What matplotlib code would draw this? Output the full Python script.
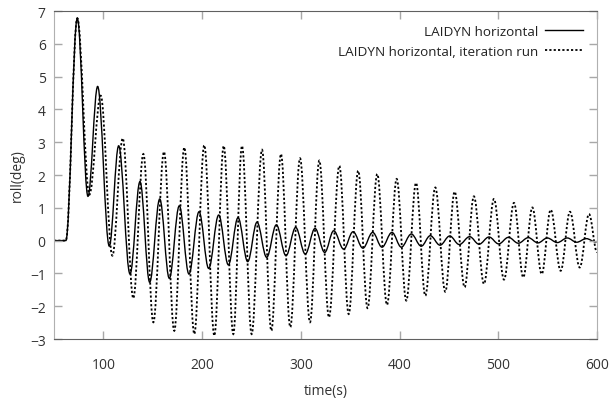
import matplotlib
matplotlib.use('Agg')
import matplotlib.pyplot as plt
from matplotlib.path import Path
from matplotlib.patches import PathPatch
from matplotlib.lines import Line2D

plt.rcParams['font.family'] = ['Open Sans', 'DejaVu Sans']

# LAIDYN horizontal (solid) - turning points
base_t = [50, 62, 73.6, 84.4, 94.2, 106.0, 115.5, 127.0, 137.1, 146.9,
          157.1, 166.8, 176.9, 186.7, 196.9, 206.7, 216.8, 226.6, 236.4, 246.2, 255.6, 265.4,
          275.2, 285.0, 294.8, 304.5, 314.4, 324.2, 333.3, 343.4, 352.9, 362.9, 372.8, 382.2,
          392.3, 401.8, 411.9, 422.0, 431.1, 441.0, 450.8, 460.5, 471.0, 480.5, 490.6, 500.4,
          510.3, 520.3, 530.4, 540.2, 549.6, 559.8, 569.9, 579.4, 589.2, 598.6, 600]
base_roll = [0, 0, 6.78, 1.35, 4.70, -0.17, 2.89, -1.02, 1.80, -1.27,
             1.27, -1.15, 1.06, -1.02, 0.88, -0.85, 0.78, -0.74, 0.70, -0.64, 0.56, -0.51,
             0.48, -0.46, 0.40, -0.41, 0.37, -0.36, 0.30, -0.26, 0.27, -0.23, 0.25, -0.20,
             0.25, -0.20, 0.20, -0.17, 0.15, -0.14, 0.14, -0.12, 0.12, -0.11, 0.11, -0.10,
             0.10, -0.08, 0.09, -0.07, 0.08, -0.06, 0.08, -0.05, 0.06, -0.04, -0.03]

# LAIDYN horizontal, iteration run (dotted)
iter_t = [50, 62, 73.6, 85.8, 97.3, 109.1, 119.6, 130.3, 140.5, 150.6,
          161.4, 171.8, 182.0, 192.1, 202.2, 212.4, 221.9, 231.6, 240.4, 250.2, 260.7, 270.1,
          279.9, 289.3, 299.2, 309.3, 318.7, 328.5, 339.0, 348.5, 358.1, 367.6, 377.4, 387.3,
          397.1, 406.8, 416.7, 426.1, 436.2, 446.3, 455.8, 465.9, 475.3, 485.5, 495.6, 505.8,
          515.9, 525.3, 534.5, 544.0, 553.1, 563.2, 572.6, 582.5, 591.9, 600]
iter_roll = [0, 0, 6.78, 1.40, 4.42, -0.46, 3.12, -1.76, 2.64, -2.49,
             2.71, -2.75, 2.84, -2.85, 2.91, -2.90, 2.89, -2.85, 2.89, -2.85, 2.77, -2.75,
             2.64, -2.64, 2.51, -2.49, 2.44, -2.34, 2.28, -2.24, 2.13, -2.06, 2.03, -1.96,
             1.88, -1.83, 1.76, -1.68, 1.62, -1.56, 1.49, -1.42, 1.35, -1.32, 1.27, -1.19,
             1.15, -1.12, 1.01, -1.02, 0.94, -0.92, 0.88, -0.82, 0.81, -0.35]

x_ticks = [100, 200, 300, 400, 500, 600]
y_ticks = [-3, -2, -1, 0, 1, 2, 3, 4, 5, 6, 7]


def wave_path(ts, vs):
    # cubic segments with flat tangents at each turning point
    verts = [(ts[0], vs[0])]
    codes = [Path.MOVETO]
    for i in range(1, len(ts)):
        d = ts[i] - ts[i - 1]
        verts += [(ts[i - 1] + 0.363 * d, vs[i - 1]), (ts[i] - 0.363 * d, vs[i]), (ts[i], vs[i])]
        codes += [Path.CURVE4] * 3
    return Path(verts, codes)


fig = plt.figure(figsize=(6.1, 4.02), dpi=100)
ax = fig.add_axes([54 / 610, 1 - 340 / 402, 543 / 610, 328 / 402])

solid_style = dict(color='black', linewidth=1.0)
dot_style = dict(color='black', linewidth=1.3, linestyle=(0, (1.2, 1.2)))

ax.add_patch(PathPatch(wave_path(base_t, base_roll), fill=False, **{
    'edgecolor': solid_style['color'], 'linewidth': solid_style['linewidth']}))
ax.add_patch(PathPatch(wave_path(iter_t, iter_roll), fill=False, edgecolor='black',
                       linewidth=dot_style['linewidth'], linestyle=dot_style['linestyle']))

ax.set_xlim(50, 600)
ax.set_ylim(-3, 7)
ax.set_xticks(x_ticks)
ax.set_yticks(y_ticks)

ax.tick_params(direction='in', top=True, right=True, length=6, width=1,
               color='#a8a8a8', labelcolor='#333333', labelsize=10)
ax.tick_params(axis='x', pad=13)
ax.tick_params(axis='y', pad=6)
for side in ['left', 'right']:
    ax.spines[side].set_color('#b0b0b0')
for side in ['top', 'bottom']:
    ax.spines[side].set_color('#606060')

ax.set_xlabel('time(s)', fontsize=10, color='#333333')
ax.set_ylabel('roll(deg)', fontsize=10, color='#333333')
ax.xaxis.set_label_coords(0.5, -0.133)
ax.yaxis.set_label_coords(-0.053, 0.5)

handles = [Line2D([], [], **solid_style), Line2D([], [], **dot_style)]
labels = ['LAIDYN horizontal', 'LAIDYN horizontal, iteration run']
ax.legend(handles, labels, loc='upper right', bbox_to_anchor=(583 / 610, 1 - 26 / 402),
          bbox_transform=fig.transFigure, frameon=False, markerfirst=False,
          fontsize=9.7, borderpad=0, borderaxespad=0, handlelength=2.8,
          handletextpad=0.5, labelspacing=0.5, labelcolor='#222222')

fig.savefig('out.png', dpi=100)
